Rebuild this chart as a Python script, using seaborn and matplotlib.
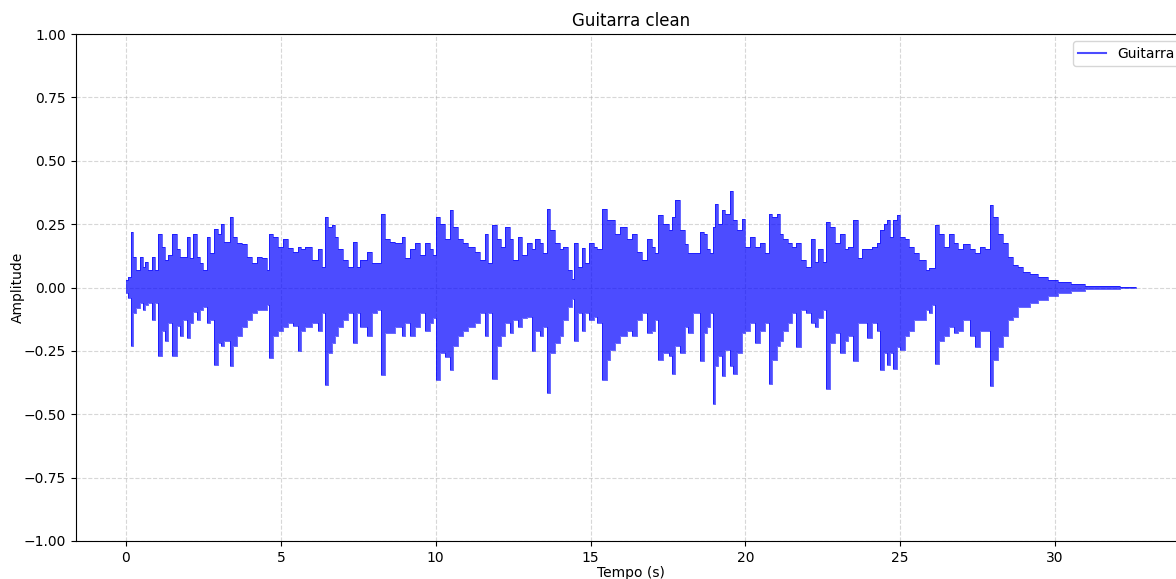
import numpy as np
import pandas as pd
import matplotlib
matplotlib.use("Agg")
import matplotlib.pyplot as plt
from matplotlib.lines import Line2D
import seaborn as sns

# Envelope of the waveform (time in s, peak amplitudes)
time = [
    0.00, 0.08, 0.16, 0.24, 0.31, 0.45, 0.56, 0.61, 0.72, 0.83, 0.94, 1.04, 1.15, 1.26, 1.37, 1.50,
    1.64, 1.74, 1.85, 1.96, 2.07, 2.17, 2.28, 2.39, 2.50, 2.60, 2.71, 2.85, 2.96, 3.07, 3.18, 3.36,
    3.47, 3.57, 3.74, 3.90, 4.06, 4.22, 4.38, 4.54, 4.63, 4.76, 4.92, 5.08, 5.24, 5.40, 5.54, 5.66,
    5.78, 6.00, 6.21, 6.32, 6.42, 6.53, 6.64, 6.75, 6.86, 7.02, 7.18, 7.34, 7.45, 7.56, 7.78, 7.94,
    8.10, 8.23, 8.36, 8.53, 8.69, 8.91, 9.01, 9.18, 9.34, 9.50, 9.66, 9.82, 9.90, 10.00, 10.14, 10.30,
    10.46, 10.57, 10.73, 10.89, 11.05, 11.27, 11.43, 11.59, 11.70, 11.81, 11.97, 12.10, 12.24, 12.40,
    12.50, 12.67, 12.78, 12.94, 13.10, 13.20, 13.37, 13.48, 13.58, 13.69, 13.85, 14.01, 14.12, 14.28,
    14.39, 14.48, 14.61, 14.72, 14.83, 14.94, 15.10, 15.20, 15.38, 15.52, 15.63, 15.79, 15.95, 16.17,
    16.33, 16.49, 16.65, 16.81, 16.97, 17.08, 17.19, 17.35, 17.52, 17.62, 17.73, 17.89, 18.05, 18.16,
    18.32, 18.54, 18.65, 18.76, 18.86, 18.95, 19.02, 19.13, 19.24, 19.35, 19.50, 19.61, 19.72, 19.88,
    19.99, 20.15, 20.31, 20.47, 20.63, 20.76, 20.87, 21.01, 21.12, 21.22, 21.38, 21.49, 21.65, 21.81,
    21.97, 22.12, 22.24, 22.35, 22.52, 22.59, 22.73, 22.89, 23.05, 23.21, 23.32, 23.49, 23.65, 23.76,
    23.92, 24.08, 24.24, 24.35, 24.46, 24.57, 24.68, 24.78, 24.89, 25.00, 25.16, 25.27, 25.43, 25.60,
    25.82, 25.92, 26.03, 26.13, 26.24, 26.40, 26.56, 26.72, 26.88, 27.04, 27.26, 27.42, 27.58, 27.74,
    27.90, 28.01, 28.17, 28.33, 28.49, 28.65, 28.81, 28.97, 29.19, 29.45, 29.78, 30.10, 30.50, 30.95,
    31.50, 32.10, 32.60,
]
upper = [
    0.03, 0.04, 0.22, 0.12, 0.07, 0.12, 0.08, 0.10, 0.07, 0.12, 0.07, 0.21, 0.16, 0.11, 0.13, 0.21,
    0.15, 0.12, 0.12, 0.20, 0.115, 0.21, 0.12, 0.095, 0.07, 0.20, 0.135, 0.23, 0.21, 0.25, 0.18, 0.28,
    0.20, 0.175, 0.17, 0.12, 0.095, 0.12, 0.115, 0.07, 0.21, 0.20, 0.16, 0.19, 0.155, 0.14, 0.16, 0.15,
    0.16, 0.11, 0.15, 0.08, 0.28, 0.24, 0.245, 0.20, 0.15, 0.11, 0.08, 0.18, 0.08, 0.11, 0.14, 0.095,
    0.095, 0.29, 0.19, 0.18, 0.175, 0.20, 0.115, 0.15, 0.175, 0.13, 0.175, 0.15, 0.13, 0.28, 0.25, 0.19,
    0.305, 0.24, 0.19, 0.175, 0.16, 0.14, 0.11, 0.21, 0.095, 0.245, 0.19, 0.16, 0.24, 0.19,
    0.11, 0.20, 0.13, 0.175, 0.15, 0.19, 0.175, 0.135, 0.31, 0.225, 0.175, 0.15, 0.16, 0.07,
    0.035, 0.175, 0.08, 0.155, 0.095, 0.175, 0.16, 0.15, 0.31, 0.265, 0.265, 0.21, 0.24, 0.19,
    0.21, 0.14, 0.11, 0.19, 0.16, 0.135, 0.285, 0.25, 0.225, 0.28, 0.345, 0.225, 0.17, 0.135,
    0.135, 0.22, 0.21, 0.15, 0.135, 0.24, 0.33, 0.25, 0.305, 0.29, 0.38, 0.265, 0.225, 0.27,
    0.16, 0.20, 0.16, 0.175, 0.135, 0.29, 0.28, 0.29, 0.21, 0.19, 0.175, 0.16, 0.175, 0.11,
    0.08, 0.19, 0.10, 0.15, 0.10, 0.26, 0.24, 0.175, 0.21, 0.15, 0.16, 0.265, 0.115, 0.15,
    0.15, 0.16, 0.175, 0.225, 0.25, 0.265, 0.20, 0.265, 0.285, 0.20, 0.19, 0.16, 0.135, 0.11,
    0.07, 0.075, 0.075, 0.245, 0.21, 0.16, 0.21, 0.175, 0.15, 0.17, 0.15, 0.135, 0.16, 0.15,
    0.325, 0.28, 0.21, 0.175, 0.12, 0.09, 0.08, 0.06, 0.055, 0.04, 0.03, 0.023, 0.014, 0.007,
    0.004, 0.003, 0.002,
]
lower = [
    -0.02, -0.04, -0.23, -0.10, -0.08, -0.06, -0.09, -0.07, -0.06, -0.13, -0.06, -0.27, -0.17, -0.21, -0.14, -0.27,
    -0.15, -0.19, -0.13, -0.20, -0.14, -0.095, -0.13, -0.09, -0.075, -0.14, -0.13, -0.305, -0.22, -0.23, -0.21, -0.31,
    -0.23, -0.19, -0.155, -0.13, -0.10, -0.09, -0.09, -0.07, -0.28, -0.19, -0.17, -0.155, -0.14, -0.15, -0.25, -0.17,
    -0.155, -0.14, -0.17, -0.10, -0.385, -0.26, -0.22, -0.19, -0.155, -0.13, -0.10, -0.22, -0.10, -0.155, -0.19, -0.10,
    -0.09, -0.345, -0.18, -0.18, -0.155, -0.19, -0.14, -0.19, -0.155, -0.10, -0.17, -0.14, -0.12, -0.365, -0.26, -0.275,
    -0.325, -0.23, -0.19, -0.17, -0.155, -0.14, -0.10, -0.19, -0.10, -0.36, -0.23, -0.19, -0.14, -0.18,
    -0.13, -0.155, -0.12, -0.115, -0.25, -0.17, -0.19, -0.155, -0.415, -0.26, -0.22, -0.19, -0.13, -0.075,
    -0.045, -0.21, -0.10, -0.17, -0.10, -0.13, -0.115, -0.14, -0.365, -0.285, -0.245, -0.22, -0.19, -0.17,
    -0.19, -0.13, -0.10, -0.18, -0.17, -0.13, -0.285, -0.26, -0.27, -0.34, -0.23, -0.26, -0.155, -0.18,
    -0.10, -0.29, -0.18, -0.155, -0.10, -0.46, -0.31, -0.27, -0.35, -0.245, -0.31, -0.34, -0.26, -0.18,
    -0.17, -0.14, -0.22, -0.17, -0.14, -0.38, -0.285, -0.23, -0.21, -0.17, -0.14, -0.10, -0.235, -0.09,
    -0.10, -0.14, -0.155, -0.12, -0.09, -0.40, -0.22, -0.18, -0.26, -0.21, -0.19, -0.29, -0.14, -0.14,
    -0.20, -0.14, -0.17, -0.325, -0.26, -0.305, -0.26, -0.32, -0.235, -0.245, -0.19, -0.17, -0.13, -0.13,
    -0.09, -0.10, -0.07, -0.30, -0.21, -0.19, -0.155, -0.18, -0.17, -0.13, -0.19, -0.235, -0.17, -0.17,
    -0.39, -0.285, -0.235, -0.19, -0.13, -0.115, -0.075, -0.075, -0.06, -0.05, -0.035, -0.023, -0.012, -0.006,
    -0.004, -0.003, -0.002,
]

title = "Guitarra clean"
legend_label = "Guitarra"
xlabel = "Tempo (s)"
ylabel = "Amplitude"

df = pd.DataFrame({"t": time, "upper": upper, "lower": lower})

fig = plt.figure(figsize=(11.76, 5.79), dpi=100)
ax = fig.add_axes([75.5 / 1176, 38 / 579, 1110.6 / 1176, 507 / 579])

ax.grid(True, linestyle="--", alpha=0.5)
ax.set_axisbelow(True)

ax.fill_between(df["t"], df["lower"], df["upper"], step="post",
                color="blue", alpha=0.7, linewidth=0)
sns.lineplot(data=df, x="t", y="upper", ax=ax, color="blue", alpha=0.7,
             linewidth=0.6, drawstyle="steps-post", legend=False)
sns.lineplot(data=df, x="t", y="lower", ax=ax, color="blue", alpha=0.7,
             linewidth=0.6, drawstyle="steps-post", legend=False)

ax.set_xlim(-1.63, 34.23)
ax.set_ylim(-1.0, 1.0)
ax.set_yticks([-1.0, -0.75, -0.5, -0.25, 0.0, 0.25, 0.5, 0.75, 1.0])
ax.set_xticks([0, 5, 10, 15, 20, 25, 30])
ax.set_title(title, fontsize=12)
ax.set_xlabel(xlabel, labelpad=1)
ax.set_ylabel(ylabel, labelpad=-1)

handle = Line2D([], [], color="blue", alpha=0.7, linewidth=1.5)
ax.legend([handle], [legend_label], loc="upper right",
          bbox_to_anchor=(1.0 + 1 / 1110.6, 1.0))

fig.savefig("out.png", dpi=100)
